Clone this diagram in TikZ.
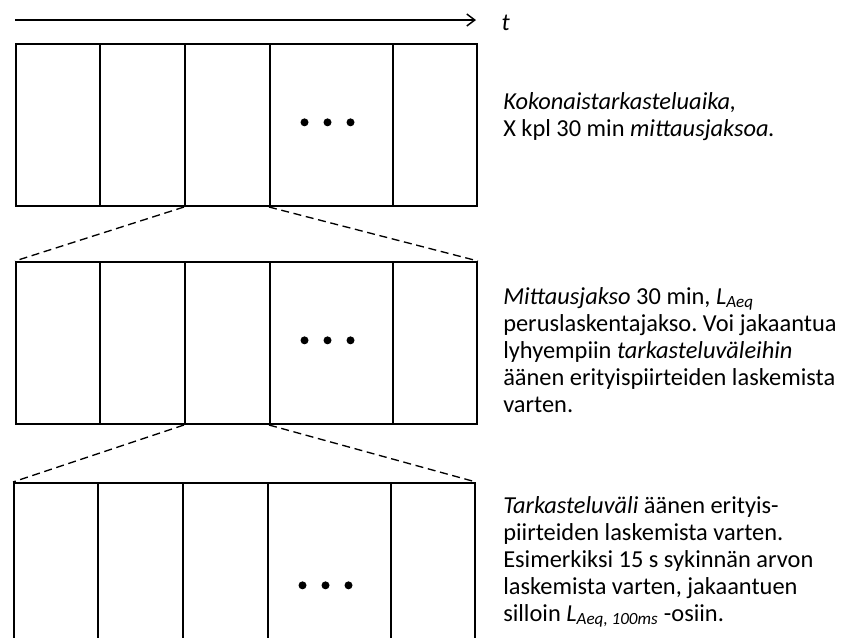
\documentclass[tikz,border=0pt]{standalone}
\usepackage{fontspec}
\setmainfont{Carlito}
\usetikzlibrary{arrows.meta,positioning}
\tikzset{>={Straight Barb[length=6pt,width=9pt,line width=1.1pt]}}
\tikzset{
  cell/.style={draw,line width=1.5pt,inner sep=0pt,anchor=north west},
  zoomline/.style={line width=1pt,dash pattern=on 6pt off 3.5pt},
  note/.style={inner sep=0pt,anchor=north west,align=left,
    font=\fontsize{18.3pt}{20.3pt}\selectfont\frenchspacing}
}

\begin{document}
\begin{tikzpicture}[x=0.75pt,y=-0.75pt]
      \useasboundingbox (0,0) rectangle (841,637);
      \clip (0,0) rectangle (841,637);
      % time axis
      \coordinate (tstart) at (15,20);
      \coordinate (tend) at (476,20);
      \draw[->,line width=1.1pt] (tstart) -- (tend);
      \node[right=19pt of tend,yshift=-2pt,inner sep=0pt,font=\fontsize{18.3pt}{20.3pt}\selectfont] (tlabel) {\textit{t}};
      %
      \foreach \R/\Y/\S/\H in {1/43/0/162,2/261/0/162,3/482/-2/210} {%
        \foreach \C/\XL/\XR in {1/15/99,2/99/184,3/184/269,4/269/392,5/392/476} {%
          \node[cell,minimum width={(\XR-\XL)*0.75pt},minimum height={\H*0.75pt}]
            (r\R c\C) at (\XL+\S,\Y) {};
        }
        \foreach \D in {-27,-4,19} {%
          \fill ([xshift=\D*0.75pt,yshift=2pt]r\R c4.center) circle (3pt);
        }
      }
      % zoom lines
      \draw[zoomline] (r1c3.south west) -- (r2c1.north west);
      \draw[zoomline] (r1c4.south west) -- (r2c5.north east);
      \draw[zoomline] (r2c3.south west) -- (r3c1.north west);
      \draw[zoomline] (r2c4.south west) -- (r3c5.north east);
      %
      \node[note] (total) at (503,92) {\textit{Kokonaistarkasteluaika,}\\
        X kpl 30 min \textit{mittausjaksoa.}};
      \node[note] (period) at (503,287) {\textit{Mittausjakso} 30 min, \textit{L}\textsubscript{\textit{Aeq}}\\
        peruslaskentajakso. Voi jakaantua\\
        lyhyempiin \textit{tarkasteluväleihin}\\
        äänen erityispiirteiden laskemista\\
        varten.};
      \node[note] (interval) at (503,496) {\textit{Tarkasteluväli} äänen erityis-\\
        piirteiden laskemista varten.\\
        Esimerkiksi 15 s sykinnän arvon\\
        laskemista varten, jakaantuen\\
        silloin \textit{L}\textsubscript{\textit{Aeq, 100ms}} -osiin.};
    \end{tikzpicture}
\end{document}
